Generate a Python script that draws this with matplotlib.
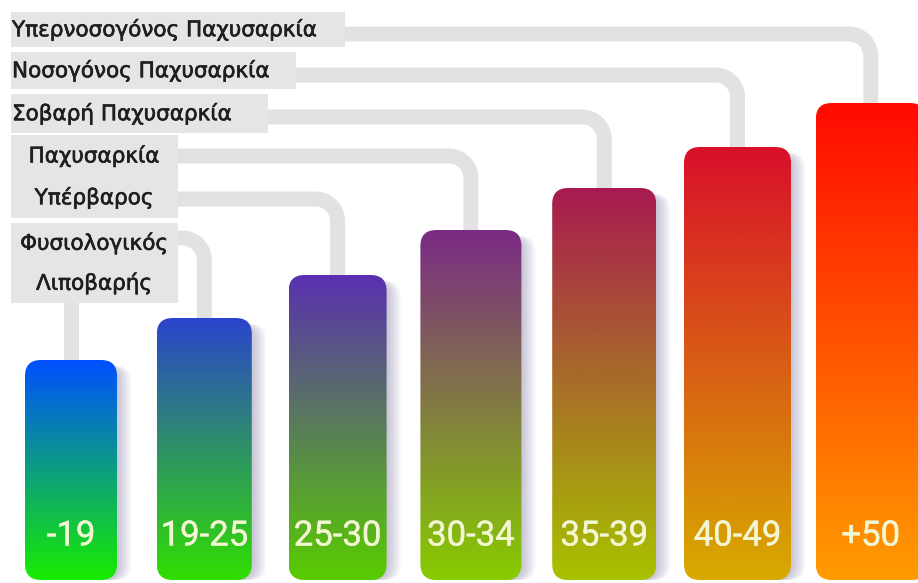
import matplotlib
matplotlib.use("Agg")
import matplotlib.pyplot as plt
import matplotlib.patheffects as pe
import numpy as np
from matplotlib.patches import FancyBboxPatch, Rectangle
from matplotlib.colors import to_rgb

# BMI ranges and weight classes, lowest to highest
bmi_ranges = ["-19", "19-25", "25-30", "30-34", "35-39", "40-49", "+50"]
classes = ["Λιποβαρής", "Φυσιολογικός", "Υπέρβαρος", "Παχυσαρκία",
           "Σοβαρή Παχυσαρκία", "Νοσογόνος Παχυσαρκία", "Υπερνοσογόνος Παχυσαρκία"]
bar_heights = [220, 262, 305, 350, 392, 433, 477]

# gradient colours of each bar (top -> bottom)
top_colors = ["#0050ff", "#2b44cc", "#5a30b0", "#7b2a85", "#a81a50", "#d8102a", "#ff0a00"]
bottom_colors = ["#18ec00", "#30de00", "#58cc00", "#88cc00", "#a8c200", "#d8aa00", "#ff9c00"]

# layout (pixels)
W, H = 918, 583
base = 580
pitch = 131.8
box_color = "#e5e5e5"
line_color = "#e2e2e2"
box_rows = [(263, 303), (223, 263), (177, 218), (135, 177), (94, 133), (52, 89), (12, 47)]
box_right = [178, 178, 178, 178, 268, 296, 345]
line_y = [None, 238, 199, 156, 117, 75, 34]
corner = 22

fig = plt.figure(figsize=(W / 100, H / 100), dpi=100)
ax = fig.add_axes([0, 0, 1, 1])
fig.patch.set_facecolor("white")

for i, (label, rng, h) in enumerate(zip(classes, bmi_ranges, bar_heights)):
    left = 25 + pitch * i
    w = 92 + 3 * i
    cx = left + w / 2
    top = base - h

    # connector from the label box down to the bar
    if line_y[i] is None:
        xs = [cx, cx]
        ys = [box_rows[i][1] - 2, top + 6]
    else:
        ly = line_y[i]
        t = np.linspace(-np.pi / 2, 0, 20)
        ax_c, ay_c = cx - corner, ly + corner
        xs = [box_right[i] - 10] + list(ax_c + corner * np.cos(t)) + [cx]
        ys = [ly] + list(ay_c + corner * np.sin(t)) + [top + 6]
    ax.plot(xs, ys, color=line_color, lw=10.8, solid_capstyle="butt", zorder=1)

    # soft shadow on the right
    for k in range(7):
        sh = FancyBboxPatch((left + 2 + 2 * k, top + 6), w, h - 6,
                            boxstyle="round,pad=0,rounding_size=16",
                            facecolor="#7c74a0", edgecolor="none", alpha=0.065, zorder=2)
        ax.add_patch(sh)

    # gradient bar
    c0, c1 = np.array(to_rgb(top_colors[i])), np.array(to_rgb(bottom_colors[i]))
    f = np.linspace(0, 1, 256)[:, None]
    grad = (c0 * (1 - f) + c1 * f)[:, None, :]
    im = ax.imshow(grad, extent=(left, left + w, base, top), origin="upper",
                   aspect="auto", interpolation="bilinear", zorder=3)
    clip = FancyBboxPatch((left, top), w, h, boxstyle="round,pad=0,rounding_size=16",
                          facecolor="none", edgecolor="none", transform=ax.transData)
    ax.add_patch(clip)
    im.set_clip_path(clip)

    ax.text(cx, 536, rng, ha="center", va="center", fontsize=25,
            family="Roboto", color="#f2f6d2", zorder=4,
            path_effects=[pe.withStroke(linewidth=0.3, foreground="#f2f6d2")])

    # label box
    y0, y1 = box_rows[i]
    ax.add_patch(Rectangle((11, y0), box_right[i] - 11, y1 - y0,
                           facecolor=box_color, edgecolor="none", zorder=2))
    ym = (y0 + y1) / 2
    halo = [pe.withStroke(linewidth=0.45, foreground="#1e1e1e")]
    if i < 4:
        ax.text(94, ym, label, ha="center", va="center", fontsize=15.5,
                family="DejaVu Sans", color="#1e1e1e", zorder=4, path_effects=halo)
    else:
        ax.text(12, ym, label, ha="left", va="center", fontsize=15.5,
                family="DejaVu Sans", color="#1e1e1e", zorder=4, path_effects=halo)

ax.set_xlim(0, W)
ax.set_ylim(H, 0)
ax.axis("off")
fig.savefig("out.png", dpi=100, facecolor="white")
